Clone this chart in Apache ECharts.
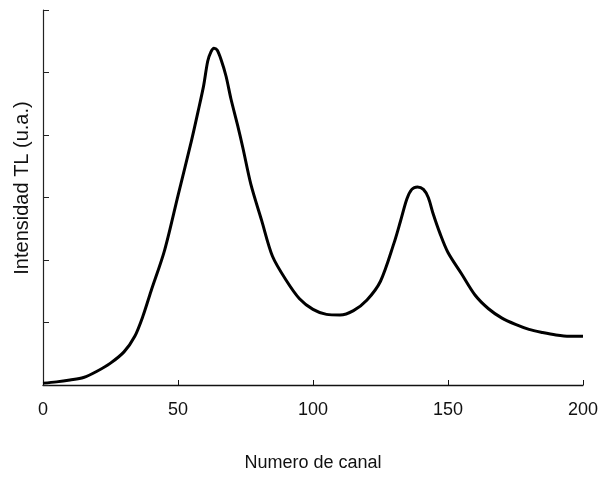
<!DOCTYPE html>
<html>
<head>
<meta charset="utf-8">
<script src="https://cdn.jsdelivr.net/npm/echarts@6/dist/echarts.min.js"></script>
<style>html,body{margin:0;padding:0;background:#fff;overflow:hidden}#c{width:601px;height:477px}</style>
</head>
<body>
<div id="c"></div>
<script>
var channels = [0, 5, 10, 15, 20, 25, 30, 34, 37, 40, 45, 50, 55, 57.4, 59.5, 61, 62.2, 63.3, 64.5, 66, 67.8, 69.6, 72, 74, 77, 81, 85, 90, 95, 100, 105, 110, 115, 120, 125, 130, 132.4, 134.8, 136.6, 138.7, 140.9, 142.7, 144.5, 147, 150, 155, 160, 165, 170, 175, 180, 185, 190, 195, 200];
var intensity = [0.03, 0.05, 0.08, 0.12, 0.22, 0.35, 0.53, 0.78, 1.10, 1.50, 2.15, 3.03, 3.91, 4.37, 4.79, 5.18, 5.33, 5.39, 5.36, 5.20, 4.94, 4.58, 4.17, 3.80, 3.21, 2.63, 2.06, 1.68, 1.38, 1.21, 1.13, 1.12, 1.19, 1.36, 1.66, 2.27, 2.62, 2.98, 3.13, 3.17, 3.13, 3.00, 2.74, 2.43, 2.12, 1.78, 1.44, 1.22, 1.07, 0.97, 0.89, 0.84, 0.80, 0.78, 0.78];
var xTicks = [0, 50, 100, 150, 200];
var xTitle = 'Numero de canal';
var yTitle = 'Intensidad TL (u.a.)';

var pts = channels.map(function (c, i) { return [c, intensity[i]]; });
var chart = echarts.init(document.getElementById('c'));
var font = '"Liberation Sans", Arial, sans-serif';
chart.setOption({
  animation: false,
  backgroundColor: '#fff',
  grid: { left: 43, top: 10, width: 547, height: 387, containLabel: false },
  xAxis: {
    type: 'value', min: xTicks[0], max: xTicks[xTicks.length - 1], interval: 50,
    name: xTitle, nameLocation: 'middle', nameGap: 69,
    nameTextStyle: { color: '#111', fontSize: 18, fontFamily: font },
    axisLine: { show: true, lineStyle: { color: '#111', width: 1.3 } },
    axisTick: { show: true, inside: true, length: 5, lineStyle: { color: '#111' } },
    axisLabel: { color: '#111', fontSize: 18, fontFamily: font, margin: 16 },
    splitLine: { show: false }
  },
  yAxis: {
    type: 'value', min: 0, max: 6, interval: 1,
    axisLine: { show: true, lineStyle: { color: '#222', width: 1.2 } },
    axisTick: { show: true, inside: true, length: 6, lineStyle: { color: '#222' } },
    axisLabel: { show: false },
    splitLine: { show: false }
  },
  graphic: [{
    type: 'text', x: 22, y: 188, rotation: Math.PI / 2,
    style: { text: yTitle, fill: '#111', fontSize: 20, fontFamily: font, textAlign: 'center', textVerticalAlign: 'middle' }
  }],
  series: [{
    type: 'line', data: pts, smooth: 0.3, showSymbol: false,
    lineStyle: { color: '#000', width: 3 }
  }]
});
</script>
</body>
</html>
